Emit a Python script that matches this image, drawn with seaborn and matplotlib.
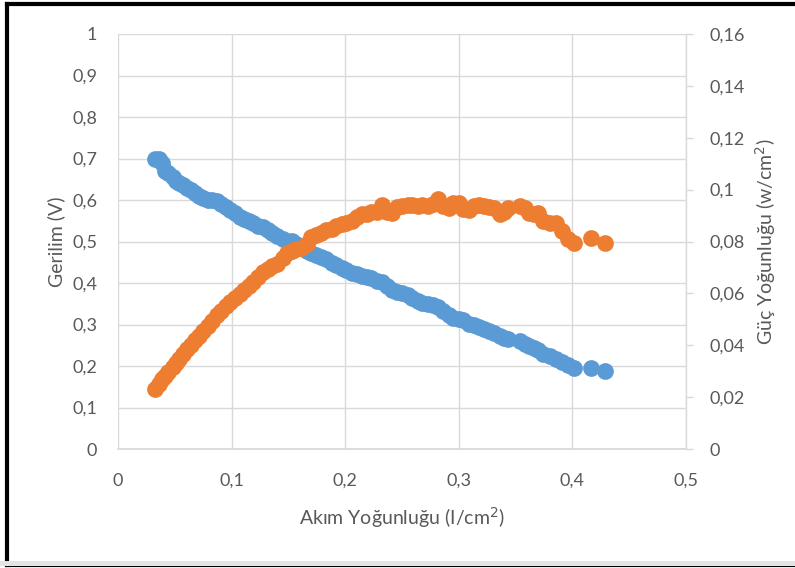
import matplotlib
matplotlib.use("Agg")
import matplotlib.pyplot as plt
from matplotlib.lines import Line2D
from matplotlib.patches import Rectangle
import numpy as np
import pandas as pd
import seaborn as sns

# Current density (A/cm2)
current = [
    0.033, 0.036, 0.039, 0.041, 0.044, 0.048, 0.051, 0.054, 0.057, 0.061,
    0.064, 0.068, 0.071, 0.075, 0.079, 0.083, 0.087, 0.091, 0.095, 0.099,
    0.103, 0.107, 0.111, 0.115, 0.119, 0.123, 0.128, 0.132, 0.136, 0.140,
    0.145, 0.149, 0.153, 0.157, 0.161, 0.166, 0.170, 0.174, 0.179, 0.183,
    0.188, 0.192, 0.197, 0.201, 0.206, 0.210, 0.215, 0.219, 0.223, 0.228,
    0.232, 0.237, 0.241, 0.246, 0.250, 0.255, 0.259, 0.264, 0.268, 0.273,
    0.277, 0.282, 0.286, 0.291, 0.295, 0.300, 0.304, 0.309, 0.313, 0.318,
    0.322, 0.327, 0.331, 0.336, 0.340, 0.343, 0.354, 0.358, 0.362, 0.366,
    0.370, 0.374, 0.380, 0.386, 0.391, 0.396, 0.401, 0.416, 0.429,
]

# Cell voltage (V)
voltage = [
    0.700, 0.698, 0.688, 0.670, 0.664, 0.655, 0.646, 0.640, 0.636, 0.630,
    0.624, 0.616, 0.610, 0.604, 0.600, 0.599, 0.598, 0.590, 0.583, 0.576,
    0.569, 0.560, 0.554, 0.549, 0.544, 0.538, 0.534, 0.527, 0.520, 0.514,
    0.506, 0.502, 0.501, 0.494, 0.486, 0.476, 0.472, 0.468, 0.462, 0.458,
    0.448, 0.443, 0.437, 0.432, 0.425, 0.422, 0.418, 0.414, 0.411, 0.405,
    0.402, 0.392, 0.384, 0.378, 0.376, 0.371, 0.364, 0.356, 0.353, 0.349,
    0.347, 0.342, 0.333, 0.324, 0.316, 0.314, 0.310, 0.301, 0.299, 0.294,
    0.290, 0.285, 0.280, 0.272, 0.267, 0.265, 0.260, 0.254, 0.247, 0.243,
    0.239, 0.228, 0.224, 0.218, 0.210, 0.202, 0.195, 0.195, 0.188,
]

# Power density (W/cm2)
power = [
    0.0233, 0.0250, 0.0268, 0.0280, 0.0295, 0.0318, 0.0332, 0.0348, 0.0366, 0.0385,
    0.0400, 0.0420, 0.0436, 0.0455, 0.0476, 0.0495, 0.0515, 0.0532, 0.0550, 0.0566,
    0.0582, 0.0597, 0.0613, 0.0628, 0.0645, 0.0662, 0.0683, 0.0695, 0.0706, 0.0715,
    0.0736, 0.0755, 0.0765, 0.0770, 0.0776, 0.0792, 0.0818, 0.0825, 0.0833, 0.0845,
    0.0850, 0.0858, 0.0866, 0.0870, 0.0880, 0.0895, 0.0905, 0.0906, 0.0912, 0.0915,
    0.0940, 0.0912, 0.0910, 0.0932, 0.0938, 0.0942, 0.0940, 0.0935, 0.0942, 0.0938,
    0.0945, 0.0965, 0.0935, 0.0930, 0.0948, 0.0950, 0.0925, 0.0920, 0.0938, 0.0942,
    0.0935, 0.0933, 0.0928, 0.0905, 0.0915, 0.0930, 0.0935, 0.0930, 0.0910, 0.0905,
    0.0908, 0.0880, 0.0872, 0.0870, 0.0840, 0.0808, 0.0795, 0.0815, 0.0795,
]

x_ticks = [0, 0.1, 0.2, 0.3, 0.4, 0.5]
x_tick_labels = ["0", "0,1", "0,2", "0,3", "0,4", "0,5"]
v_ticks = [0, 0.1, 0.2, 0.3, 0.4, 0.5, 0.6, 0.7, 0.8, 0.9, 1.0]
v_tick_labels = ["0", "0,1", "0,2", "0,3", "0,4", "0,5", "0,6", "0,7", "0,8", "0,9", "1"]
p_ticks = [0, 0.02, 0.04, 0.06, 0.08, 0.10, 0.12, 0.14, 0.16]
p_tick_labels = ["0", "0,02", "0,04", "0,06", "0,08", "0,1", "0,12", "0,14", "0,16"]

df = pd.DataFrame({"current": current, "voltage": voltage, "power": power})

sns.set_theme(style="white")
plt.rcParams["font.family"] = ["Lato", "DejaVu Sans"]

TEXT = "#595959"
GRID = "#d9d9d9"
BLUE = "#5b9bd5"
ORANGE = "#ed7d31"

W, H = 795, 568
fig = plt.figure(figsize=(W / 100, H / 100), dpi=100)
fig.patch.set_facecolor("white")
ax = fig.add_axes([118 / W, 1 - 449 / H, (686 - 118) / W, (449 - 34) / H])
ax2 = ax.twinx()

sns.scatterplot(data=df, x="current", y="voltage", ax=ax, color=BLUE,
                s=145, edgecolor=BLUE, linewidth=0, zorder=3)
sns.scatterplot(data=df, x="current", y="power", ax=ax2, color=ORANGE,
                s=145, edgecolor=ORANGE, linewidth=0, zorder=3)

ax.set_xlim(0, 0.5)
ax.set_ylim(0, 1)
ax2.set_ylim(0, 0.16)

ax.set_xticks(x_ticks)
ax.set_xticklabels(x_tick_labels)
ax.set_yticks(v_ticks)
ax.set_yticklabels(v_tick_labels)
ax2.set_yticks(p_ticks)
ax2.set_yticklabels(p_tick_labels)

ax.grid(True, color=GRID, linewidth=1.0)
ax.set_axisbelow(True)
ax2.grid(False)

for a in (ax, ax2):
    for side in ("top", "left", "bottom", "right"):
        a.spines[side].set_visible(False)
ax2.spines["right"].set_visible(True)
ax2.spines["right"].set_color(GRID)
ax2.spines["right"].set_linewidth(1.0)
ax.spines["bottom"].set_visible(True)
ax.spines["bottom"].set_color(GRID)

ax.tick_params(axis="x", length=0, pad=17, labelsize=13, labelcolor=TEXT)
ax.tick_params(axis="y", length=0, pad=15, labelsize=13, labelcolor=TEXT)
ax2.tick_params(axis="y", right=True, length=5, width=1, color=GRID,
                pad=12, labelsize=13, labelcolor=TEXT)

ax.set_xlabel("Akım Yoğunluğu (I/cm$^{2}$)", fontsize=14, color=TEXT, labelpad=12)
ax.set_ylabel("Gerilim (V)", fontsize=14, color=TEXT, labelpad=5)
ax2.set_ylabel("Güç Yoğunluğu (w/cm$^{2}$)", fontsize=14, color=TEXT, labelpad=6)

# Frame around the chart with a light inner shadow at the bottom
fig.add_artist(Rectangle((0, 2.5 / H), 1, 5 / H, transform=fig.transFigure,
                         facecolor="#e4e4e4", edgecolor="none", zorder=5))
lw = 3.0
fig.add_artist(Line2D([7 / W, 7 / W], [3 / H, 1 - 4 / H], transform=fig.transFigure,
                      color="black", linewidth=lw, solid_capstyle="projecting"))
fig.add_artist(Line2D([7 / W, 1.02], [1 - 4 / H, 1 - 4 / H], transform=fig.transFigure,
                      color="black", linewidth=lw, solid_capstyle="projecting"))
fig.add_artist(Line2D([7 / W, 1.02], [3 / H, 3 / H], transform=fig.transFigure,
                      color="black", linewidth=lw, solid_capstyle="projecting"))

fig.savefig("out.png", dpi=100)
